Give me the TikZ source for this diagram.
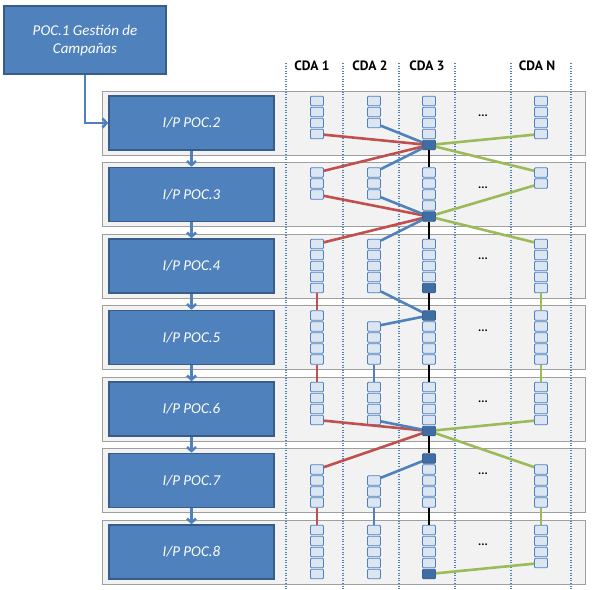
\documentclass[tikz,border=0pt]{standalone}
\usepackage{fontspec}
\newfontfamily\calibri{Carlito}
\newfontfamily\headfont{PT Sans}
\usepackage{tikz}
\usetikzlibrary{arrows.meta,positioning}
\definecolor{pocblue}{HTML}{4F81BD}
\definecolor{pocedge}{HTML}{385D8A}
\definecolor{celllight}{HTML}{DCE6F2}
\definecolor{hubfill}{HTML}{3F6EA6}
\definecolor{panelgray}{HTML}{F2F2F2}
\definecolor{cdared}{HTML}{C0504D}
\definecolor{cdagreen}{HTML}{9BBB59}
\tikzset{
    block/.style={rectangle, fill=pocblue, draw=pocedge, line width=1.6pt, text=white, align=center, font=\calibri\itshape\fontsize{15}{18}\selectfont},
    cell/.style={rectangle, rounded corners=1pt, minimum width=13pt, minimum height=9.5pt, inner sep=0pt, fill=celllight, draw=pocblue, line width=0.8pt},
    hub/.style={cell, fill=hubfill, draw=pocedge},
    panel/.style={fill=panelgray, draw=gray!75, line width=0.8pt},
    flow/.style={-{Straight Barb[length=4pt,width=9pt]}, line width=2.5pt, draw=pocblue},
    link/.style={line width=2.6pt},
    grid/.style={draw=pocblue, line width=1.2pt, dash pattern=on 1pt off 1.6pt},
    head/.style={font=\headfont\bfseries\fontsize{13.5}{15}\selectfont},
    dots/.style={font=\calibri\bfseries\fontsize{12}{14}\selectfont},
}
\begin{document}
\begin{tikzpicture}[x=1pt,y=-1pt]
        \useasboundingbox (0,0) rectangle (593,589);

        % Row panels
        \foreach \r in {1,...,7}{
            \pgfmathsetmacro\T{91+71.5*(\r-1)}
            \draw[panel] (102,\T) rectangle (585,\T+64);
        }

        % Column separators
        \foreach \x in {286,343,399,455,511,571}
            \draw[grid] (\x,63) -- (\x,589);

        % Column headers
        \node[head] (head1) at (312,66) {CDA 1};
        \node[head] (head2) at (370,66) {CDA 2};
        \node[head] (head3) at (427,66) {CDA 3};
        \node[head] (headn) at (537,66) {CDA N};

        % Campaign box
        \node[block, minimum width=162pt, minimum height=68pt] (poc1) at (85,40) {POC.1 Gestión de\\Campañas};

        % Rows: box, cell stacks of each CDA, hub cell
        \foreach \r/\sa/\sb/\sc/\sn/\hk in {
            1/{0,...,3}/{0,...,2}/{0,...,3}/{0,...,3}/4,
            2/{0,...,2}/{0,...,2}/{0,...,3}/{0,1}/4,
            3/{0,...,4}/{0,...,4}/{0,...,3}/{0,...,4}/4,
            4/{0,...,4}/{1,...,4}/{1,...,4}/{0,...,4}/0,
            5/{0,...,3}/{0,...,3}/{0,...,3}/{0,...,3}/4,
            6/{1,...,4}/{2,...,4}/{1,...,4}/{1,...,4}/0,
            7/{0,...,4}/{0,...,4}/{0,...,3}/{0,...,3}/4}{
            \pgfmathsetmacro\T{91+71.5*(\r-1)}
            \pgfmathtruncatemacro\n{\r+1}
            \node[block, minimum width=165pt, minimum height=54pt] (poc\n) at (191.5,\T+32) {I/P POC.\n};
            \foreach \k in \sa \node[cell] (a\r-\k) at (317,\T+10+11*\k) {};
            \foreach \k in \sb \node[cell] (b\r-\k) at (374,\T+10+11*\k) {};
            \foreach \k in \sc \node[cell] (c\r-\k) at (429,\T+10+11*\k) {};
            \foreach \k in \sn \node[cell] (n\r-\k) at (541,\T+10+11*\k) {};
            \node[hub] (h\r) at (429,\T+10+11*\hk) {};
            \node[dots] (dots\r) at (483,\T+25) {...};
        }

        % Flow between boxes
        \draw[flow] (poc1) |- (poc2);
        \foreach \n [evaluate=\n as \m using int(\n+1)] in {2,...,7}
            \draw[flow] (poc\n) -- (poc\m);

        % Links between cells
        \foreach \u/\v in {a1-3/h1, h1/a2-0, a2-2/h2, h2/a3-0, a3-4/a4-0, a4-4/a5-0, a5-3/h5, h5/a6-1, a6-4/a7-0}
            \draw[link, cdared] (\u) -- (\v);
        \foreach \u/\v in {b1-2/h1, h1/b2-0, b2-2/h2, h2/b3-0, b3-4/h4, b4-1/h4, b4-4/b5-0, b5-3/h5, b6-2/h6, b6-4/b7-0}
            \draw[link, pocblue] (\u) -- (\v);
        \foreach \u/\v in {n1-3/h1, h1/n2-0, n2-1/h2, h2/n3-0, n3-4/n4-0, n4-4/n5-0, n5-3/h5, h5/n6-1, n6-4/n7-0, n7-3/h7}
            \draw[link, cdagreen] (\u) -- (\v);
        \foreach \u/\v in {h1/c2-0, h2/c3-0, h3/h4, c4-4/c5-0, h5/h6, c6-4/c7-0}
            \draw[link, black] (\u) -- (\v);

    \end{tikzpicture}
\end{document}
